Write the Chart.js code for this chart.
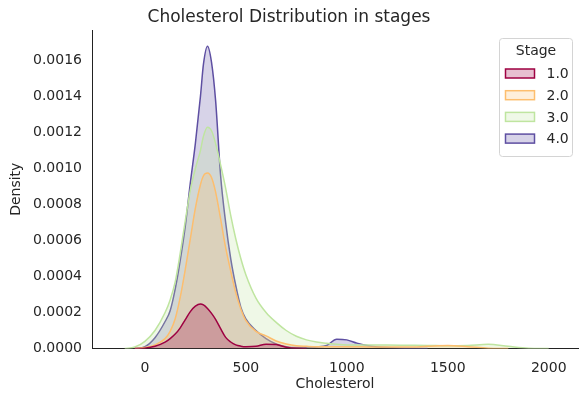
<!DOCTYPE html>
<html>
<head>
<meta charset="utf-8">
<script src="https://cdn.jsdelivr.net/npm/chart.js@4/dist/chart.umd.min.js"></script>
<style>
  html, body { margin: 0; padding: 0; background: #fff; }
  #wrap { width: 579px; height: 398px; }
</style>
</head>
<body>
<div id="wrap"><canvas id="chart" width="579" height="398"></canvas></div>
<script>
// cholesterol values (x) shared by all four density curves
const cholesterol = [
  -250, -200, -150, -100, -50, 0, 50, 100, 125, 150,
  175, 200, 225, 250, 275, 290, 310, 330, 350, 375,
  400, 425, 450, 475, 500, 550, 600, 650, 700, 750,
  800, 850, 900, 950, 1000, 1050, 1100, 1150, 1200, 1300,
  1400, 1500, 1600, 1700, 1800, 1900, 2000, 2100, 2150
];

// density per stage, in units of 1e-4 (null = outside the curve's support)
const stage1 = [
  null, null, null, null, 0, 0.02, 0.12, 0.35, 0.55, 0.8,
  1.15, 1.6, 2.05, 2.35, 2.47, 2.42, 2.22, 1.95, 1.62, 1.1,
  0.62, 0.36, 0.2, 0.13, 0.1, 0.12, 0.24, 0.22, 0.07, 0.01,
  0, null, null, null, null, null, null, null, null, null,
  null, null, null, null, null, null, null, null, null
];
const stage2 = [
  null, null, null, null, 0, 0.05, 0.2, 0.55, 0.95, 1.65,
  2.85, 4.4, 6.1, 7.8, 9.1, 9.6, 9.75, 9.5, 8.7, 7.2,
  5.6, 4.3, 3.1, 2.2, 1.55, 0.95, 0.7, 0.42, 0.25, 0.15,
  0.12, 0.1, 0.1, 0.1, 0.1, 0.1, 0.09, 0.08, 0.08, 0.08,
  0.12, 0.16, 0.1, 0.02, 0, null, null, null, null
];
const stage3 = [
  null, null, null, 0, 0.08, 0.4, 1.0, 2.0, 2.7, 3.7,
  5.3, 7.1, 8.8, 10.0, 11.0, 11.8, 12.3, 12.1, 11.4, 10.2,
  8.9, 7.4, 6.1, 5.0, 4.1, 2.8, 2.0, 1.45, 1.0, 0.68,
  0.48, 0.36, 0.29, 0.24, 0.2, 0.2, 0.2, 0.2, 0.19, 0.18,
  0.17, 0.15, 0.17, 0.23, 0.12, 0.02, 0, null, null
];
const stage4 = [
  null, null, null, null, 0, 0.1, 0.6, 1.5, 2.1, 3.3,
  4.9, 6.8, 9.2, 11.4, 14.0, 15.8, 16.8, 15.9, 13.8, 9.6,
  7.0, 5.0, 3.5, 2.3, 1.65, 1.0, 0.55, 0.25, 0.1, 0.05,
  0.05, 0.08, 0.17, 0.52, 0.48, 0.3, 0.17, 0.09, 0.05, 0.01,
  0, null, null, null, null, null, null, null, null
];
const DENSITY_UNIT = 1e-4;

const stageLabels = ['1.0', '2.0', '3.0', '4.0'];
const stageSeries = [stage1, stage2, stage3, stage4];
// Spectral colormap sampled at 0, 1/3, 2/3, 1
const stageColors = ['#9e0142', '#fdbe6e', '#bfe5a0', '#5e4fa2'];

const xTicks = [0, 500, 1000, 1500, 2000];
const yTicks = [0, 0.0002, 0.0004, 0.0006, 0.0008, 0.0010, 0.0012, 0.0014, 0.0016];

function withAlpha(hex, a) {
  const n = parseInt(hex.slice(1), 16);
  return `rgba(${(n >> 16) & 255}, ${(n >> 8) & 255}, ${n & 255}, ${a})`;
}

const FONT = '"DejaVu Sans", sans-serif';
const TEXT = '#262626';
Chart.defaults.font.family = FONT;
Chart.defaults.font.size = 14;
Chart.defaults.color = TEXT;

const datasets = stageSeries.map((series, i) => ({
  label: stageLabels[i],
  data: cholesterol.map((x, j) => ({ x: x, y: series[j] === null ? null : series[j] * DENSITY_UNIT })),
  borderColor: stageColors[i],
  backgroundColor: withAlpha(stageColors[i], 0.25),
  borderWidth: 1.5,
  pointRadius: 0,
  fill: 'origin',
  cubicInterpolationMode: 'monotone',
  spanGaps: false
}));

// matplotlib-style legend box with a title, top right of the plot
const stageLegend = {
  id: 'stageLegend',
  afterDraw(chart) {
    const ctx = chart.ctx;
    const area = chart.chartArea;
    const w = 73, h = 118;
    const x = area.right - 6 - w + 0.5, y = area.top + 8.5;
    const r = 3;
    ctx.save();
    ctx.beginPath();
    ctx.moveTo(x + r, y);
    ctx.lineTo(x + w - r, y);
    ctx.arcTo(x + w, y, x + w, y + r, r);
    ctx.lineTo(x + w, y + h - r);
    ctx.arcTo(x + w, y + h, x + w - r, y + h, r);
    ctx.lineTo(x + r, y + h);
    ctx.arcTo(x, y + h, x, y + h - r, r);
    ctx.lineTo(x, y + r);
    ctx.arcTo(x, y, x + r, y, r);
    ctx.closePath();
    ctx.fillStyle = 'rgba(255,255,255,0.8)';
    ctx.fill();
    ctx.strokeStyle = '#d4d4d4';
    ctx.lineWidth = 1;
    ctx.stroke();

    ctx.font = '14px ' + FONT;
    ctx.fillStyle = TEXT;
    ctx.textBaseline = 'middle';
    ctx.textAlign = 'center';
    ctx.fillText('Stage', x + w / 2, y + 13);

    ctx.textAlign = 'left';
    stageLabels.forEach((label, i) => {
      const cy = y + 35 + i * 21.7;
      ctx.fillStyle = withAlpha(stageColors[i], 0.25);
      ctx.fillRect(x + 6, cy - 4.5, 29, 9);
      ctx.strokeStyle = stageColors[i];
      ctx.lineWidth = 1.5;
      ctx.strokeRect(x + 6, cy - 4.5, 29, 9);
      ctx.fillStyle = TEXT;
      ctx.fillText(label, x + 47, cy + 1);
    });
    ctx.restore();
  }
};

new Chart(document.getElementById('chart'), {
  type: 'line',
  data: { datasets: datasets },
  plugins: [stageLegend],
  options: {
    responsive: false,
    animation: false,
    devicePixelRatio: 1,
    layout: { padding: { top: 0, right: 1, bottom: 0, left: 0 } },
    plugins: {
      legend: { display: false },
      tooltip: { enabled: false },
      title: {
        display: true,
        text: 'Cholesterol Distribution in stages',
        color: TEXT,
        font: { family: FONT, size: 17, weight: 'normal' },
        padding: { top: 7, bottom: 2.6 }
      }
    },
    scales: {
      x: {
        type: 'linear',
        min: -262,
        max: 2145,
        afterBuildTicks: (scale) => { scale.ticks = xTicks.map(v => ({ value: v })); },
        afterFit: (scale) => { scale.height = 49.5; },
        grid: { display: false, drawTicks: false },
        border: { display: true, color: '#222', width: 1 },
        ticks: { padding: 11, maxRotation: 0, color: TEXT, font: { size: 14 }, callback: (v) => String(v) },
        title: { display: true, text: 'Cholesterol', color: TEXT, font: { size: 14 }, padding: { top: 0, bottom: 5 } }
      },
      y: {
        min: 0,
        max: 0.00177,
        afterBuildTicks: (scale) => { scale.ticks = yTicks.map(v => ({ value: v })); },
        afterFit: (scale) => { scale.width = 92; },
        grid: { display: false, drawTicks: false },
        border: { display: true, color: '#222', width: 1 },
        ticks: { padding: 10, color: TEXT, font: { size: 14 }, callback: (v) => Number(v).toFixed(4) },
        title: { display: true, text: 'Density', color: TEXT, font: { size: 14 }, padding: { top: 7.6, bottom: 0 } }
      }
    }
  }
});
</script>
</body>
</html>
